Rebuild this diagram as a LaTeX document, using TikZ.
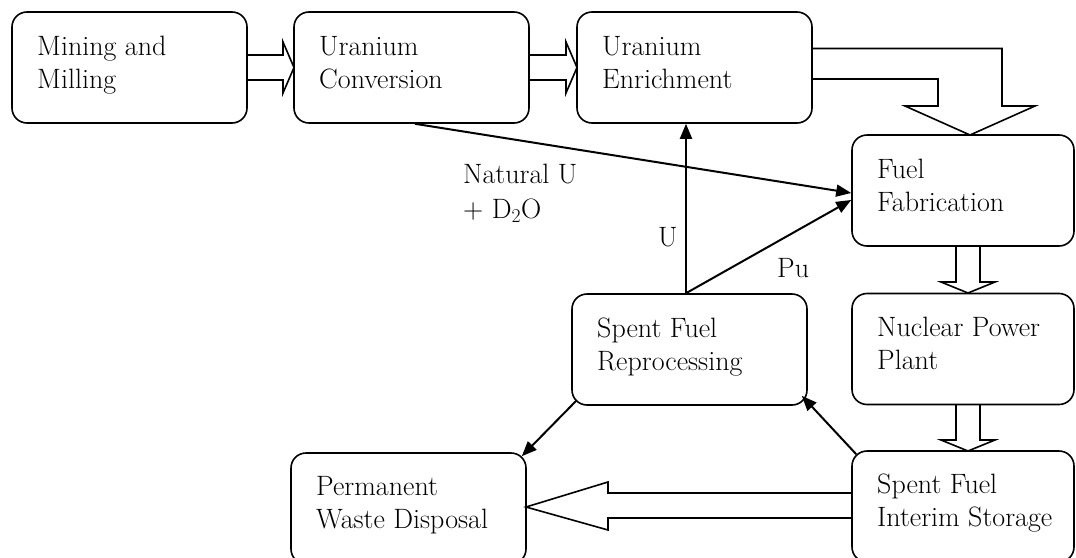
\documentclass[tikz,border=0pt]{standalone}
\usepackage{fontspec}
\setmainfont{Latin Modern Roman}
\usetikzlibrary{arrows.meta}
\newcommand\bstrut{\rule[-12pt]{0pt}{33pt}}
\newcommand\lstrut{\rule[-14pt]{0pt}{35pt}}
\begin{document}
\begin{tikzpicture}[x=1pt,y=-1pt,
  box/.style={draw, line width=1.6pt, rounded corners=15pt, minimum height=111pt, inner sep=0pt},
  txt/.style={anchor=north west, inner sep=0pt, align=left, font=\fontsize{28}{33}\selectfont},
  blk/.style={draw, line width=1.6pt, line join=miter},
  arr/.style={line width=2pt, -{Triangle[length=15pt,width=12pt]}},
  lbl/.style={anchor=base west, inner sep=0pt, font=\fontsize{28}{33}\selectfont}]
\fill[white] (0,0) rectangle (1076,557);
\clip (0,0) rectangle (1076,557);
% boxes
\node[box, minimum width=235pt] (mine) at (129.5,67.5) {};
\node[box, minimum width=235pt] (conv) at (411.5,67.5) {};
\node[box, minimum width=235pt] (enr)  at (694.5,67.5) {};
\node[box, minimum width=222pt] (fuel) at (963,190.5) {};
\node[box, minimum width=222pt] (npp)  at (963,349) {};
\node[box, minimum width=235pt] (rep)  at (689.5,349.5) {};
\node[box, minimum width=235pt] (perm) at (408.5,508.5) {};
\node[box, minimum width=222pt] (int)  at (963,506.5) {};
% box texts
\node[txt] (mine-t) at (37,34)  {\bstrut Mining and\\\bstrut Milling};
\node[txt] (conv-t) at (319,34) {\bstrut Uranium\\\bstrut Conversion};
\node[txt] (enr-t)  at (602,34) {\bstrut Uranium\\\bstrut Enrichment};
\node[txt] (fuel-t) at (877,157) {\bstrut Fuel\\\bstrut Fabrication};
\node[txt] (npp-t)  at (877,315) {\bstrut Nuclear Power\\\bstrut Plant};
\node[txt] (rep-t)  at (597,316) {\bstrut Spent Fuel\\\bstrut Reprocessing};
\node[txt] (perm-t) at (316,474) {\bstrut Permanent\\\bstrut Waste Disposal};
\node[txt] (int-t)  at (877,472) {\bstrut Spent Fuel\\\bstrut Interim Storage};
% block arrows
\draw[blk] (247,55)--(283,55)--(283,42)--(294,67.5)--(283,93)--(283,80)--(247,80);
\draw[blk] (529,55)--(566,55)--(566,42)--(577,67.5)--(566,93)--(566,80)--(529,80);
\draw[blk] (812,48.5)--(1002,48.5)--(1002,106)--(1035,106)--(970,135)--(905,106)--(938,106)--(938,79)--(812,79);
\draw[blk] (956,246)--(956,282)--(941,282)--(968,293)--(995,282)--(980,282)--(980,246);
\draw[blk] (956,405)--(956,440)--(941,440)--(968,451)--(995,440)--(980,440)--(980,405);
\draw[blk] (852,493)--(608,493)--(608,482)--(526,507)--(608,530)--(608,518)--(852,518);
% thin arrows
\draw[arr] ([xshift=3.5pt]conv.south) -- ([yshift=-2.5pt]fuel.west);
\coordinate (rtop) at ([xshift=-3.5pt]rep.north);
\draw[arr] (rtop) -- (rtop |- enr.south);
\draw[arr] (rtop) -- ([yshift=-9.5pt]fuel.west);
\draw[arr] ([shift={(5pt,-4pt)}]int.north west) -- ([shift={(-6pt,10pt)}]rep.south east);
\draw[arr] ([shift={(5pt,5pt)}]rep.south west) -- ([shift={(-5pt,-4pt)}]perm.north east);
% labels
\node[txt, font=\fontsize{28}{35}\selectfont] (natu) at (463,162) {\lstrut Natural U\\\lstrut + D\textsubscript{2}O};
\node[lbl] (ulab) at (658,246) {U};
\node[lbl] (pulab) at (777,277) {Pu};
\end{tikzpicture}
\end{document}
